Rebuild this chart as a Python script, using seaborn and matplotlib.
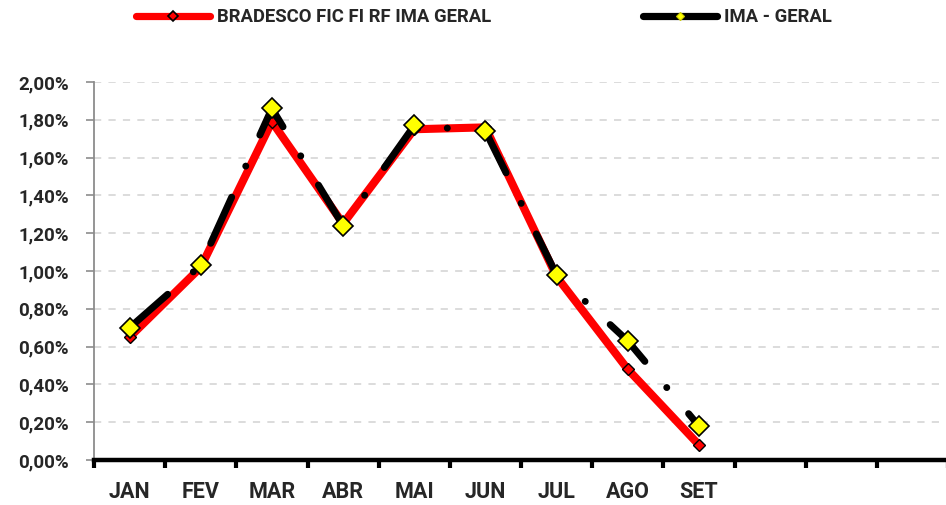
import numpy as np
import pandas as pd
import seaborn as sns
import matplotlib.pyplot as plt
from matplotlib.lines import Line2D
from matplotlib.ticker import FuncFormatter, FixedLocator

# slots on the x axis (12 months, only 9 with data/labels)
slot_labels = ["JAN", "FEV", "MAR", "ABR", "MAI", "JUN", "JUL", "AGO", "SET", "", "", ""]
meses = ["JAN", "FEV", "MAR", "ABR", "MAI", "JUN", "JUL", "AGO", "SET"]

# monthly returns (%)
bradesco = [0.65, 1.02, 1.79, 1.25, 1.75, 1.76, 0.97, 0.48, 0.08]
ima_geral = [0.70, 1.03, 1.86, 1.24, 1.77, 1.74, 0.98, 0.63, 0.18]

y_ticks = [0.0, 0.2, 0.4, 0.6, 0.8, 1.0, 1.2, 1.4, 1.6, 1.8, 2.0]

df = pd.DataFrame({
    "pos": [slot_labels.index(m) for m in meses],
    "mes": meses,
    "bradesco": bradesco,
    "ima": ima_geral,
})

sns.set_style("white")
plt.rcParams["font.family"] = ["Roboto", "DejaVu Sans"]
plt.rcParams["font.weight"] = "bold"

fig = plt.figure(figsize=(9.46, 5.05), dpi=100)
ax = fig.add_axes([94 / 946, 45 / 505, 854 / 946, 378 / 505])

# grid
for v in y_ticks[1:]:
    ax.axhline(v, color="#d9d9d9", lw=1.3, ls=(0, (4, 4)), zorder=0)

sns.lineplot(data=df, x="pos", y="bradesco", ax=ax, color="#ff0000", lw=5.8,
             marker="D", markersize=6.4, markerfacecolor="#ff0000",
             markeredgecolor="black", markeredgewidth=1.0,
             solid_capstyle="round", zorder=3, legend=False)

sns.lineplot(data=df, x="pos", y="ima", ax=ax, color="black", lw=5.0,
             marker="D", markersize=10.2, markerfacecolor="#ffff00",
             markeredgecolor="black", markeredgewidth=1.2, zorder=4, legend=False)
black = ax.lines[-1]
black.set_dashes((7.3, 4.9, 0.01, 4.9))
black.set_dash_capstyle("round")

ax.set_xlim(-0.5, len(slot_labels) - 0.5)
ax.set_ylim(0, 2.0)
ax.set_yticks(y_ticks)
ax.yaxis.set_major_formatter(FuncFormatter(lambda v, p: f"{v:.2f}%".replace(".", ",")))

ax.set_xticks(range(len(slot_labels)))
ax.set_xticklabels(slot_labels)
ax.xaxis.set_minor_locator(FixedLocator(np.arange(-0.5, len(slot_labels), 1.0)))
ax.tick_params(axis="x", which="major", length=0, pad=15, labelsize=15.5, bottom=True)
ax.tick_params(axis="x", which="minor", length=6, width=3, color="black",
               direction="out", bottom=True)
ax.tick_params(axis="y", length=6, width=1.2, color="#8c8c8c", pad=12, labelsize=13.5,
               left=True)
for lab in ax.get_xticklabels() + ax.get_yticklabels():
    lab.set_fontweight("bold")

for s in ["top", "right"]:
    ax.spines[s].set_visible(False)
ax.spines["left"].set_color("#8c8c8c")
ax.spines["left"].set_linewidth(1.3)
ax.spines["bottom"].set_color("black")
ax.spines["bottom"].set_linewidth(3.2)
ax.spines["bottom"].set_zorder(5)

ax.set_xlabel("")
ax.set_ylabel("")

handles = [
    Line2D([], [], color="#ff0000", lw=5.2, solid_capstyle="round", marker="D",
           markersize=5, markerfacecolor="#ff0000", markeredgecolor="black",
           markeredgewidth=1.2),
    Line2D([], [], color="black", lw=5.2, solid_capstyle="round", marker="D",
           markersize=4.5, markerfacecolor="#ffff00", markeredgecolor="#c8c800",
           markeredgewidth=0.8),
]
fig.legend(handles, ["BRADESCO FIC FI RF IMA GERAL", "IMA - GERAL"],
           loc="center left", bbox_to_anchor=(136 / 946, 1 - 17 / 505), ncol=2,
           frameon=False, handlelength=4.0, handletextpad=0.4,
           columnspacing=8.2, borderpad=0, borderaxespad=0,
           prop={"family": ["Roboto", "DejaVu Sans"], "weight": "bold", "size": 13.3})

fig.savefig("out.png", dpi=100)
